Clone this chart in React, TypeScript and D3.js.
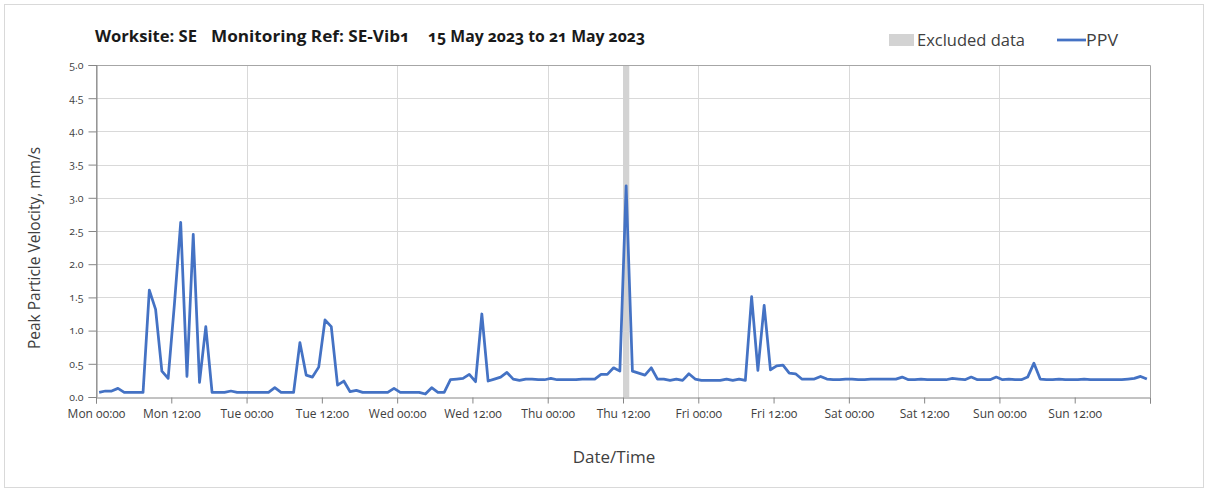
import * as d3 from "d3"
import { useEffect, useRef } from "react"

const LINE_COLOR = "#4472C4"
const EXCLUDED_COLOR = "#d3d3d3"
const TEXT_COLOR = "#404040"
const W = 1208
const H = 492
const margin = { top: 65, right: 58, bottom: 95, left: 96 }
const width = W - margin.left - margin.right
const height = H - margin.top - margin.bottom

// hourly readings, Mon 15 May 00:00 onwards (value read at the middle of each hour)
const startTime = "2023-05-15T00:30:00Z"
const ppv = [
  // Mon
  0.07, 0.09, 0.09, 0.13, 0.07, 0.07, 0.07, 0.07, 1.61, 1.32, 0.39, 0.28,
  1.4, 2.63, 0.31, 2.45, 0.22, 1.06, 0.07, 0.07, 0.07, 0.09, 0.07, 0.07,
  // Tue
  0.07, 0.07, 0.07, 0.07, 0.14, 0.07, 0.07, 0.07, 0.82, 0.33, 0.3, 0.45,
  1.16, 1.06, 0.18, 0.24, 0.08, 0.1, 0.07, 0.07, 0.07, 0.07, 0.07, 0.13,
  // Wed
  0.07, 0.07, 0.07, 0.07, 0.045, 0.14, 0.07, 0.07, 0.26, 0.27, 0.28, 0.34,
  0.23, 1.25, 0.24, 0.27, 0.3, 0.37, 0.27, 0.25, 0.27, 0.27, 0.26, 0.26,
  // Thu
  0.28, 0.26, 0.26, 0.26, 0.26, 0.27, 0.27, 0.27, 0.34, 0.34, 0.44, 0.39,
  3.18, 0.39, 0.36, 0.33, 0.44, 0.27, 0.27, 0.25, 0.27, 0.25, 0.35, 0.27,
  // Fri
  0.25, 0.25, 0.25, 0.25, 0.27, 0.25, 0.27, 0.25, 1.51, 0.4, 1.38, 0.41,
  0.47, 0.48, 0.36, 0.35, 0.27, 0.27, 0.27, 0.31, 0.27, 0.26, 0.26, 0.27,
  // Sat
  0.27, 0.26, 0.26, 0.27, 0.27, 0.27, 0.27, 0.27, 0.3, 0.26, 0.26, 0.27,
  0.26, 0.26, 0.26, 0.26, 0.28, 0.27, 0.26, 0.3, 0.26, 0.26, 0.26, 0.3,
  // Sun
  0.26, 0.27, 0.26, 0.26, 0.3, 0.51, 0.27, 0.26, 0.26, 0.27, 0.26, 0.26,
  0.26, 0.27, 0.26, 0.26, 0.26, 0.26, 0.26, 0.26, 0.27, 0.28, 0.31, 0.27,
]

const xDomain = ["2023-05-15T00:00:00Z", "2023-05-22T00:00:00Z"]
const excluded = ["2023-05-18T12:00:00Z", "2023-05-18T13:00:00Z"]
const yTicks = [0, 0.5, 1, 1.5, 2, 2.5, 3, 3.5, 4, 4.5, 5]
const dayNames = ["Mon", "Tue", "Wed", "Thu", "Fri", "Sat", "Sun"]

const titleParts = [
  { text: "Worksite: SE", x: 95, len: 102 },
  { text: "Monitoring Ref: SE-Vib1", x: 211, len: 199 },
  { text: "15 May 2023 to 21 May 2023", x: 428, len: 217 },
]

const FONT = "'Open Sans', 'Noto Sans', sans-serif"

export default function App() {
  const svgRef = useRef<SVGSVGElement | null>(null)

  useEffect(() => {
    if (!svgRef.current) return
    const svg = d3.select(svgRef.current)
    svg.selectAll("*").remove()

    svg.append("rect").attr("width", W).attr("height", H).attr("fill", "#fff")
    svg
      .append("rect")
      .attr("x", 4.5)
      .attr("y", 4.5)
      .attr("width", W - 9)
      .attr("height", H - 9)
      .attr("fill", "none")
      .attr("stroke", "#d9d9d9")

    const start = new Date(startTime).getTime()
    const data = ppv.map((v, i) => ({ t: new Date(start + i * 3600 * 1000), v }))

    const x = d3
      .scaleUtc()
      .domain(xDomain.map((d) => new Date(d)))
      .range([0, width])
    const y = d3.scaleLinear().domain([0, 5]).range([height, 0])

    const chart = svg.append("g").attr("transform", `translate(${margin.left},${margin.top})`)

    // Grid lines
    chart
      .append("g")
      .selectAll("line")
      .data(yTicks.slice(1))
      .enter()
      .append("line")
      .attr("x1", 0)
      .attr("x2", width)
      .attr("y1", (d) => Math.round(y(d)) + 0.5)
      .attr("y2", (d) => Math.round(y(d)) + 0.5)
      .attr("stroke", "#d9d9d9")

    const dayTicks = d3.utcDay.range(new Date(xDomain[0]), new Date(xDomain[1]), 1).slice(1)
    chart
      .append("g")
      .selectAll("line")
      .data(dayTicks)
      .enter()
      .append("line")
      .attr("x1", (d) => Math.round(x(d)) + 0.5)
      .attr("x2", (d) => Math.round(x(d)) + 0.5)
      .attr("y1", 0)
      .attr("y2", height)
      .attr("stroke", "#d9d9d9")

    // Excluded data band
    chart
      .append("rect")
      .attr("x", x(new Date(excluded[0])))
      .attr("width", x(new Date(excluded[1])) - x(new Date(excluded[0])))
      .attr("y", 0)
      .attr("height", height)
      .attr("fill", EXCLUDED_COLOR)

    // Plot frame
    chart
      .append("path")
      .attr("d", `M0.5,${height + 0.5}V0.5H${width + 0.5}V${height + 0.5}`)
      .attr("fill", "none")
      .attr("stroke", "#a6a6a6")

    // Y axis
    const yAxis = chart
      .append("g")
      .attr("transform", "translate(0.5,0)")
      .call(
        d3
          .axisLeft(y)
          .tickValues(yTicks)
          .tickSize(8)
          .tickPadding(5)
          .tickFormat(d3.format(".1f")),
      )
    yAxis.select(".domain").attr("stroke", "#868686")
    yAxis.selectAll(".tick line").attr("stroke", "#868686")
    yAxis
      .selectAll("text")
      .style("font-family", FONT)
      .style("font-size", "10.5px")
      .style("font-variant-numeric", "oldstyle-nums")
      .attr("fill", TEXT_COLOR)

    // X axis
    const xTicks = d3.utcHour.every(12)!.range(new Date(xDomain[0]), new Date(new Date(xDomain[1]).getTime() + 1))
    const xAxis = chart
      .append("g")
      .attr("transform", `translate(0,${height + 0.5})`)
      .call(
        d3
          .axisBottom(x)
          .tickValues(xTicks)
          .tickSize(6)
          .tickPadding(6)
          .tickFormat((d) => {
            const dt = d as Date
            if (dt.getTime() >= new Date(xDomain[1]).getTime()) return ""
            return `${dayNames[(dt.getUTCDay() + 6) % 7]} ${d3.utcFormat("%H:%M")(dt)}`
          }),
      )
    xAxis.select(".domain").attr("stroke", "#868686")
    xAxis.selectAll(".tick line").attr("stroke", "#868686")
    xAxis
      .selectAll("text")
      .style("font-family", FONT)
      .style("font-size", "12px")
      .style("font-variant-numeric", "oldstyle-nums")
      .attr("fill", TEXT_COLOR)

    // PPV line
    const line = d3
      .line<{ t: Date; v: number }>()
      .x((d) => x(d.t))
      .y((d) => y(d.v))
    chart
      .append("path")
      .datum(data)
      .attr("d", line)
      .attr("fill", "none")
      .attr("stroke", LINE_COLOR)
      .attr("stroke-width", 2.75)
      .attr("stroke-linejoin", "round")

    // Title
    svg
      .append("g")
      .selectAll("text")
      .data(titleParts)
      .enter()
      .append("text")
      .attr("x", (d) => d.x)
      .attr("y", 42)
      .attr("textLength", (d) => d.len)
      .attr("lengthAdjust", "spacingAndGlyphs")
      .text((d) => d.text)
      .style("font-family", FONT)
      .style("font-size", "16px")
      .style("font-weight", "bold")
      .style("font-variant-numeric", "oldstyle-nums")
      .attr("fill", "#1a1a1a")

    // Legend
    const legend = svg.append("g")
    legend.append("rect").attr("x", 889).attr("y", 34).attr("width", 25).attr("height", 12).attr("fill", EXCLUDED_COLOR)
    legend
      .append("text")
      .attr("x", 917)
      .attr("y", 46)
      .attr("textLength", 108)
      .attr("lengthAdjust", "spacingAndGlyphs")
      .text("Excluded data")
      .style("font-family", FONT)
      .style("font-size", "16px")
      .attr("fill", TEXT_COLOR)
    legend
      .append("line")
      .attr("x1", 1057)
      .attr("x2", 1086)
      .attr("y1", 40)
      .attr("y2", 40)
      .attr("stroke", LINE_COLOR)
      .attr("stroke-width", 2.75)
    legend
      .append("text")
      .attr("x", 1086)
      .attr("y", 46)
      .attr("textLength", 32)
      .attr("lengthAdjust", "spacingAndGlyphs")
      .text("PPV")
      .style("font-family", FONT)
      .style("font-size", "16px")
      .attr("fill", TEXT_COLOR)

    // Axis titles
    svg
      .append("text")
      .attr("text-anchor", "middle")
      .attr("transform", `translate(40,${margin.top + height / 2 + 17}) rotate(-90)`)
      .text("Peak Particle Velocity, mm/s")
      .style("font-family", FONT)
      .style("font-size", "15.5px")
      .attr("fill", TEXT_COLOR)

    svg
      .append("text")
      .attr("text-anchor", "middle")
      .attr("x", 614)
      .attr("y", 463)
      .text("Date/Time")
      .style("font-family", FONT)
      .style("font-size", "17px")
      .attr("fill", TEXT_COLOR)
  }, [])

  return (
    <svg
      ref={svgRef}
      width={W}
      height={H}
      style={{ position: "absolute", left: 0, top: 0 }}
      xmlns="http://www.w3.org/2000/svg"
    />
  )
}
